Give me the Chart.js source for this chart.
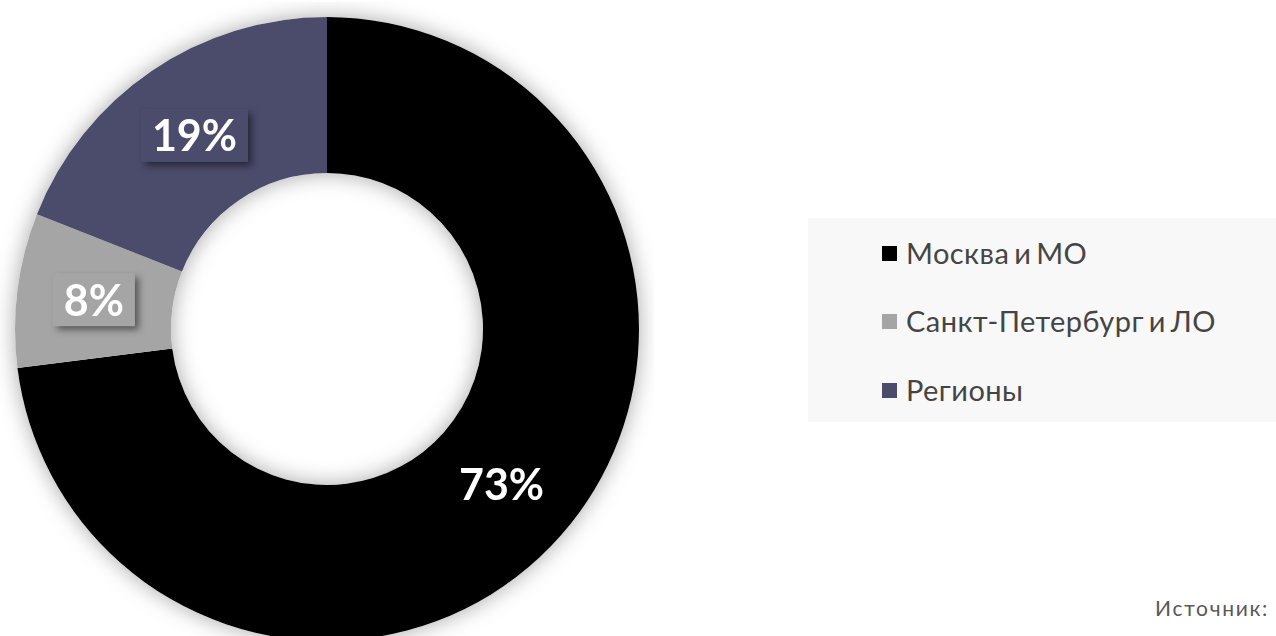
<!DOCTYPE html>
<html lang="ru">
<head>
<meta charset="utf-8">
<title>Доли по регионам</title>
<script src="https://cdn.jsdelivr.net/npm/chart.js@4/dist/chart.umd.min.js"></script>
<style>
  html, body { margin: 0; padding: 0; background: #fff; }
  body { width: 1276px; height: 636px; overflow: hidden; position: relative; font-family: Lato, "Open Sans", sans-serif; }
  #wrap { position: absolute; left: 0; top: 2px; width: 654px; height: 654px; }
  #legend { position: absolute; left: 808px; top: 218px; width: 468px; height: 204px; background: #f8f8f8; }
  #legend ul { list-style: none; margin: 0; padding: 0; }
  #legend li { height: 68.5px; display: flex; align-items: center; padding-left: 74px; font-size: 29px; color: #454545; word-spacing: -3px; letter-spacing: 0.45px; }
  #legend li span.box { width: 15px; height: 15px; margin-right: 9px; margin-top: 2px; display: inline-block; }
  #source { position: absolute; right: 7px; top: 595px; font-size: 21px; color: #595959; letter-spacing: 1.7px; }
</style>
</head>
<body>
<div id="wrap"><canvas id="donut"></canvas></div>
<div id="legend"><ul></ul></div>
<div id="source">Источник:</div>
<script>
const regions = ['Москва и МО', 'Санкт-Петербург и ЛО', 'Регионы'];
const shares = [73, 8, 19];
const sliceColors = ['#000000', '#a5a5a5', '#4b4b6b'];

// soft glow under the ring: one full ring with a shadow, drawn before the slices
const ringShadow = {
  id: 'ringShadow',
  beforeDatasetsDraw(chart) {
    const arc = chart.getDatasetMeta(0).data[0];
    if (!arc) return;
    const ctx = chart.ctx;
    ctx.save();
    ctx.shadowColor = 'rgba(0,0,0,0.35)';
    ctx.shadowBlur = 22;
    ctx.fillStyle = '#ffffff';
    ctx.beginPath();
    ctx.arc(arc.x, arc.y, arc.outerRadius, 0, Math.PI * 2);
    ctx.arc(arc.x, arc.y, arc.innerRadius, 0, Math.PI * 2, true);
    ctx.fill();
    ctx.restore();
  }
};

// percent labels in boxes of the slice colour
const sliceLabels = {
  id: 'sliceLabels',
  afterDatasetsDraw(chart) {
    const ctx = chart.ctx;
    const ds = chart.data.datasets[0];
    chart.getDatasetMeta(0).data.forEach((arc, i) => {
      const p = arc.tooltipPosition();
      const txt = ds.data[i] + '%';
      ctx.save();
      ctx.font = 'bold 43px Lato';
      const w = ctx.measureText(txt).width + 22;
      const h = 53;
      ctx.shadowColor = 'rgba(0,0,0,0.5)';
      ctx.shadowBlur = 7;
      ctx.shadowOffsetX = 4;
      ctx.shadowOffsetY = 4;
      ctx.fillStyle = ds.backgroundColor[i];
      ctx.fillRect(p.x - w / 2 - 1, p.y - h / 2, w, h);
      ctx.shadowColor = 'transparent';
      ctx.fillStyle = '#ffffff';
      ctx.textAlign = 'center';
      ctx.textBaseline = 'middle';
      ctx.fillText(txt, p.x - 1, p.y + 2);
      ctx.restore();
    });
  }
};

new Chart(document.getElementById('donut'), {
  type: 'doughnut',
  data: {
    labels: regions,
    datasets: [{
      data: shares,
      backgroundColor: sliceColors,
      borderWidth: 0,
      hoverOffset: 0
    }]
  },
  options: {
    responsive: true,
    maintainAspectRatio: false,
    animation: false,
    cutout: '50%',
    layout: { padding: 15 },
    plugins: {
      legend: { display: false },
      tooltip: { enabled: false }
    }
  },
  plugins: [ringShadow, sliceLabels]
});

// legend on the right
const ul = document.querySelector('#legend ul');
regions.forEach((name, i) => {
  const li = document.createElement('li');
  li.innerHTML = '<span class="box" style="background:' + sliceColors[i] + '"></span>' + name;
  ul.appendChild(li);
});
</script>
</body>
</html>
